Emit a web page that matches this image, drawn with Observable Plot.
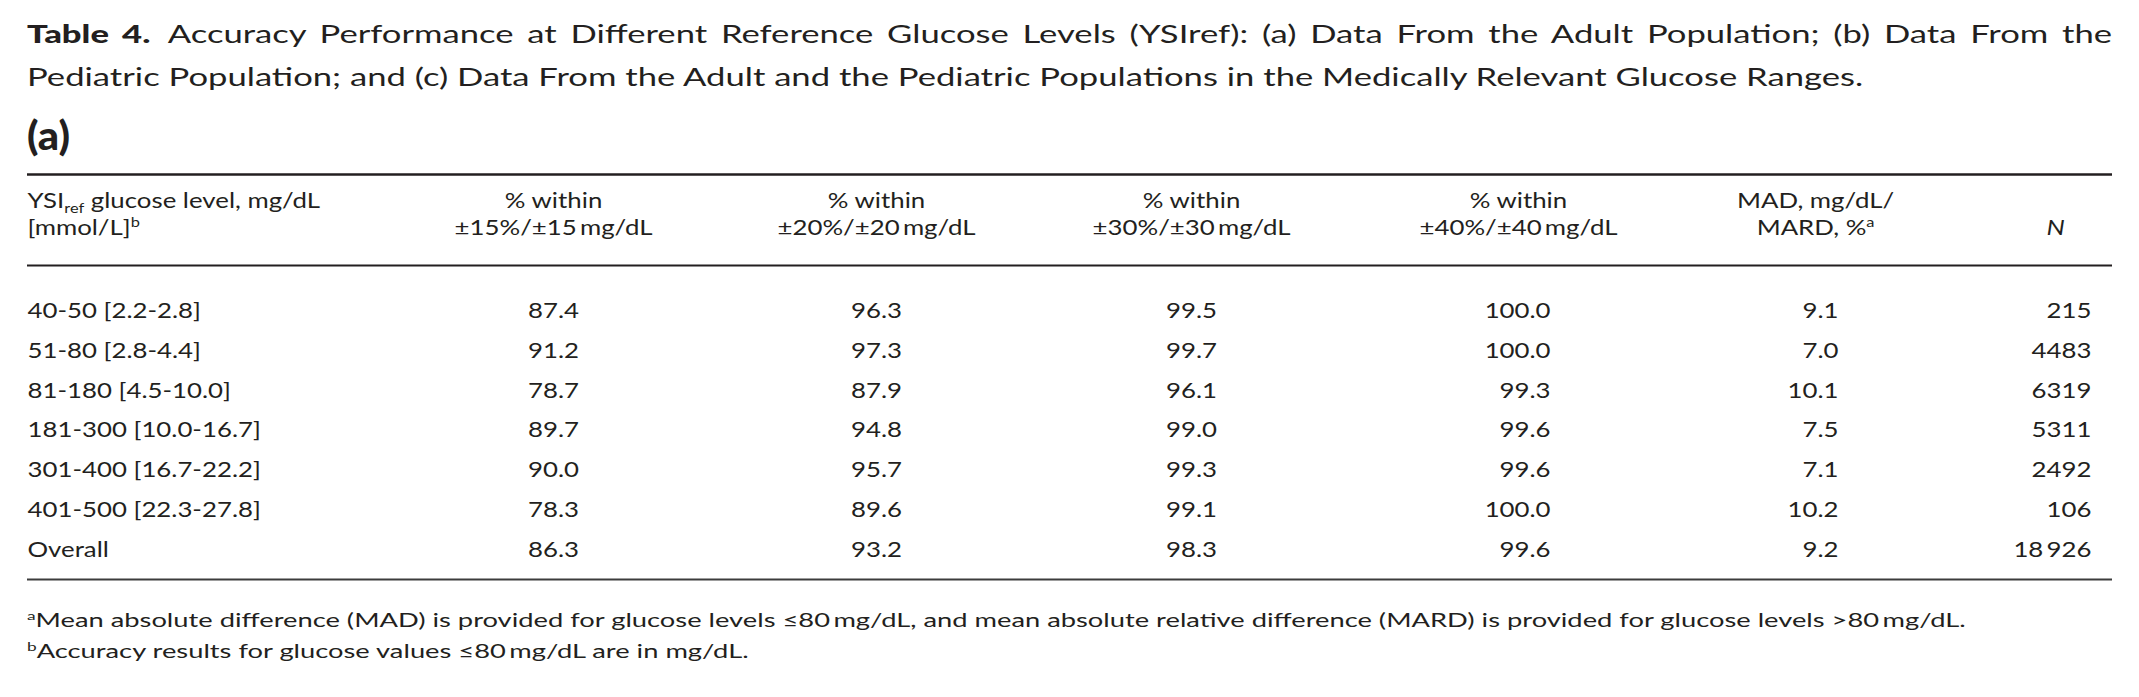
<!DOCTYPE html>
<html>
<head>
<meta charset="utf-8">
<script src="https://cdn.jsdelivr.net/npm/d3@7"></script>
<script src="https://cdn.jsdelivr.net/npm/@observablehq/plot@0.6"></script>
<style>
  html, body { margin: 0; padding: 0; background: #fff; }
  body { width: 2139px; height: 697px; position: relative; overflow: hidden;
         font-family: Lato, "Open Sans", sans-serif; color: #231f20; }
  #chart { position: absolute; left: 0; top: 165px; }
  #overlay { position: absolute; left: 0; top: 0; }
</style>
</head>
<body>
<div id="chart"></div>
<svg id="overlay" width="2139" height="697" font-family="Lato, 'Open Sans', sans-serif" fill="#231f20"></svg>
<script>
// ---------- data ----------
const glucoseLevels = ["40-50 [2.2-2.8]", "51-80 [2.8-4.4]", "81-180 [4.5-10.0]", "181-300 [10.0-16.7]",
                       "301-400 [16.7-22.2]", "401-500 [22.3-27.8]", "Overall"];
const within15 = [87.4, 91.2, 78.7, 89.7, 90.0, 78.3, 86.3];
const within20 = [96.3, 97.3, 87.9, 94.8, 95.7, 89.6, 93.2];
const within30 = [99.5, 99.7, 96.1, 99.0, 99.3, 99.1, 98.3];
const within40 = [100.0, 100.0, 99.3, 99.6, 99.6, 100.0, 99.6];
const madMard  = [9.1, 7.0, 10.1, 7.5, 7.1, 10.2, 9.2];
const nValues  = [215, 4483, 6319, 5311, 2492, 106, 18926];

const columnKeys  = ["level", "p15", "p20", "p30", "p40", "mad", "n"];
const headerLine1 = ["YSI_{ref} glucose level, mg/dL", "% within", "% within", "% within", "% within", "MAD, mg/dL/", ""];
const headerLine2 = ["[mmol/L]^{b}", "±15%/±15\u2009mg/dL", "±20%/±20\u2009mg/dL", "±30%/±30\u2009mg/dL",
                     "±40%/±40\u2009mg/dL", "MARD, %^{a}", "N"];

const titleBold  = "Table 4.";
const titleLine1 = "Accuracy Performance at Different Reference Glucose Levels (YSIref): (a) Data From the Adult Population; (b) Data From the";
const titleLine2 = "Pediatric Population; and (c) Data From the Adult and the Pediatric Populations in the Medically Relevant Glucose Ranges.";
const panelLabel = "(a)";
const footnoteA  = "Mean absolute difference (MAD) is provided for glucose levels \u226480\u2009mg/dL, and mean absolute relative difference (MARD) is provided for glucose levels >80\u2009mg/dL.";
const footnoteB  = "Accuracy results for glucose values \u226480\u2009mg/dL are in mg/dL.";

// ---------- layout (not data) ----------
const ink = "#231f20";
const FONT = "Lato";
const left = 27;
const H = 430;                 // table svg height (placed 165px from the top)
const rowPx = 39.75, row0 = 152.5;
const yDomain = [-row0 / rowPx, (H - row0) / rowPx];
const L = {topRule: -3.610, head1: -2.755, head2: -2.088, midRule: -1.321, bottomRule: 6.579};
// column positions in percent of table width
const colCenter = {level: 0, p15: 25.23, p20: 40.72, p30: 55.83, p40: 71.51, mad: 85.76, n: 97.27};
const colRight  = {p40: 73.05, mad: 86.86, n: 98.99};
const sizes = {title: 25, panel: 40, table: 22, note: 19};
const heavy = 900;

// text measurement (for glyph-width calibration against the typeset page)
const ctx = document.createElement("canvas").getContext("2d");
function measure(str, size, weight = 400) { ctx.font = `${weight} ${size}px ${FONT}`; return ctx.measureText(str).width; }
const clampK = k => (k > 0.7 && k < 1.8) ? k : 1;
const kTitle = clampK((1866 - left) / measure(titleLine2, sizes.title));
const kNote  = clampK((1968 - left) / (measure(footnoteA, sizes.note) + measure("a", 12)));
const kTable = clampK((233 + 218 + 155 + 81) /
  (measure("181-300 [10.0-16.7]", sizes.table) + measure("±15%/±15\u2009mg/dL", sizes.table) +
   measure("MAD, mg/dL/", sizes.table) + measure("% within", sizes.table)));
const kPanel = clampK(43 / measure(panelLabel, sizes.panel, heavy));

// ---------- title, panel label, footnotes (as text above / below the plot) ----------
const SVGNS = "http://www.w3.org/2000/svg";
const overlay = document.getElementById("overlay");
function addText(parent, baseline, k, size, pieces, extra = {}) {
  const t = document.createElementNS(SVGNS, "text");
  t.setAttribute("transform", `translate(${left},${baseline}) scale(${k},1)`);
  t.setAttribute("font-size", size);
  for (const [a, v] of Object.entries(extra)) t.setAttribute(a, v);
  for (const p of pieces) {
    const ts = document.createElementNS(SVGNS, "tspan");
    ts.textContent = p.text;
    for (const [a, v] of Object.entries(p.attrs || {})) ts.setAttribute(a, v);
    t.appendChild(ts);
  }
  parent.appendChild(t);
  return t;
}
// title line 1 is justified to the full width in the source
const natural1 = measure(titleBold, sizes.title, heavy) + measure("\u2002" + titleLine1, sizes.title);
const spaces1 = (titleLine1.match(/ /g) || []).length;
const wordSpacing = Math.max(0, ((2110 - left) / kTitle - natural1) / spaces1);
addText(overlay, 43.3, kTitle, sizes.title,
  [{text: titleBold, attrs: {"font-weight": heavy}}, {text: "\u2002" + titleLine1}],
  {style: `word-spacing:${wordSpacing}px`});
addText(overlay, 86.3, kTitle, sizes.title, [{text: titleLine2}]);
addText(overlay, 150, kPanel, sizes.panel, [{text: panelLabel}], {"font-weight": heavy});
addText(overlay, 627, kNote, sizes.note,
  [{text: "a", attrs: {"font-size": 12, dy: -7}}, {text: footnoteA, attrs: {dy: 7}}]);
addText(overlay, 658, kNote, sizes.note,
  [{text: "b", attrs: {"font-size": 12, dy: -7}}, {text: footnoteB, attrs: {dy: 7}}]);

// ---------- table via Plot ----------
const series = {p15: within15, p20: within20, p30: within30, p40: within40, mad: madMard};
const fmt1 = d3.format(".1f");
const fmtN = n => n >= 10000 ? String(n).replace(/(\d)(?=(\d{3})+$)/g, "$1\u2009") : String(n);

const cells = [];
glucoseLevels.forEach((lv, i) => {
  cells.push({row: i, col: "level", text: lv});
  for (const c of ["p15", "p20", "p30", "p40", "mad"]) cells.push({row: i, col: c, text: fmt1(series[c][i])});
  cells.push({row: i, col: "n", text: fmtN(nValues[i])});
});
const headers = [];
columnKeys.forEach((c, j) => {
  if (headerLine1[j]) headers.push({line: L.head1, col: c, text: headerLine1[j]});
  if (headerLine2[j]) headers.push({line: L.head2, col: c, text: headerLine2[j]});
});

const common = {lineAnchor: "bottom", fill: ink, fontSize: sizes.table};
const plot = Plot.plot({
  width: 2139, height: H,
  marginLeft: left, marginRight: 27, marginTop: 0, marginBottom: 0,
  x: {domain: [0, 100], axis: null},
  y: {domain: yDomain, reverse: true, axis: null},
  style: {fontFamily: "Lato, 'Open Sans', sans-serif", background: "white", overflow: "visible"},
  marks: [
    Plot.ruleY([L.topRule], {x1: 0, x2: 100, stroke: ink, strokeWidth: 2.6}),
    Plot.ruleY([L.midRule], {x1: 0, x2: 100, stroke: ink, strokeWidth: 2}),
    Plot.ruleY([L.bottomRule], {x1: 0, x2: 100, stroke: "#3c3c3c", strokeWidth: 1.8}),
    Plot.text(headers.filter(d => d.col === "level"),
      {x: 0, y: "line", text: "text", textAnchor: "start", ...common}),
    Plot.text(headers.filter(d => d.col !== "level" && d.col !== "n"),
      {x: d => colCenter[d.col], y: "line", text: "text", textAnchor: "middle", ...common}),
    Plot.text(headers.filter(d => d.col === "n"),
      {x: d => colCenter[d.col], y: "line", text: "text", textAnchor: "middle", fontStyle: "italic", ...common}),
    Plot.text(cells.filter(d => d.col === "level"),
      {x: 0, y: "row", text: "text", textAnchor: "start", ...common}),
    Plot.text(cells.filter(d => ["p15", "p20", "p30"].includes(d.col)),
      {x: d => colCenter[d.col], y: "row", text: "text", textAnchor: "middle", ...common}),
    Plot.text(cells.filter(d => ["p40", "mad", "n"].includes(d.col)),
      {x: d => colRight[d.col], y: "row", text: "text", textAnchor: "end", ...common})
  ]
});
document.getElementById("chart").append(plot);

// rich text (sub/superscripts) and glyph-width calibration
plot.querySelectorAll("text").forEach(el => {
  const raw = el.textContent;
  if (/[_^]\{/.test(raw)) {
    const parts = raw.split(/(_\{[^}]*\}|\^\{[^}]*\})/).filter(s => s);
    el.textContent = "";
    let shift = 0;
    for (const p of parts) {
      const ts = document.createElementNS(SVGNS, "tspan");
      let target = 0, t = p, small = false;
      if (p.startsWith("_{")) { target = 5; t = p.slice(2, -1); small = true; }
      else if (p.startsWith("^{")) { target = -8; t = p.slice(2, -1); small = true; }
      const dy = target - shift;
      if (dy) ts.setAttribute("dy", dy);
      shift = target;
      if (small) ts.setAttribute("font-size", "14");
      ts.textContent = t;
      el.appendChild(ts);
    }
  }
  const tr = el.getAttribute("transform");
  if (tr) el.setAttribute("transform", `${tr} scale(${kTable},1)`);
  else {
    const x = parseFloat(el.getAttribute("x")) || 0, y = parseFloat(el.getAttribute("y")) || 0;
    el.setAttribute("transform", `translate(${x},${y}) scale(${kTable},1) translate(${-x},${-y})`);
  }
});
</script>
</body>
</html>
